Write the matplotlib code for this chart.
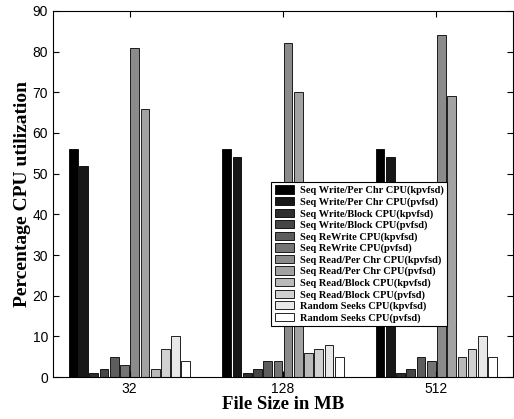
import matplotlib as mpl
mpl.use('Agg')
import matplotlib.pyplot as plt
import numpy as np

sizes = ['32', '128', '512']
series = ['Seq Write/Per Chr CPU(kpvfsd)', 'Seq Write/Per Chr CPU(pvfsd)',
          'Seq Write/Block CPU(kpvfsd)', 'Seq Write/Block CPU(pvfsd)',
          'Seq ReWrite CPU(kpvfsd)', 'Seq ReWrite CPU(pvfsd)',
          'Seq Read/Per Chr CPU(kpvfsd)', 'Seq Read/Per Chr CPU(pvfsd)',
          'Seq Read/Block CPU(kpvfsd)', 'Seq Read/Block CPU(pvfsd)',
          'Random Seeks CPU(kpvfsd)', 'Random Seeks CPU(pvfsd)']
cpu_32 = [56, 52, 1, 2, 5, 3, 81, 66, 2, 7, 10, 4]
cpu_128 = [56, 54, 1, 2, 4, 4, 82, 70, 6, 7, 8, 5]
cpu_512 = [56, 54, 1, 2, 5, 4, 84, 69, 5, 7, 10, 5]

vals = np.array([cpu_32, cpu_128, cpu_512])
n = len(series)
grays = np.linspace(0, 1, n)

fig = plt.figure(figsize=(5.14, 4.19), dpi=100)
ax = fig.add_axes([0.103, 0.1, 0.895, 0.874])

x = np.arange(1, len(sizes) + 1)
slot = 0.8 / n
for i in range(n):
    pos = x - 0.4 + slot * (i + 0.5)
    g = grays[i]
    ax.bar(pos, vals[:, i], width=slot * 0.85, color=(g, g, g),
           edgecolor='black', linewidth=0.6, label=series[i])

ax.set_xlim(0.5, 3.5)
ax.set_ylim(0, 90)
ax.set_yticks(range(0, 91, 10))
ax.set_xticks(x)
ax.set_xticklabels(sizes)
ax.tick_params(direction='in', top=True, right=True, labelsize=10, length=4)
for lab in ax.get_xticklabels() + ax.get_yticklabels():
    lab.set_family('Liberation Sans')

ax.set_xlabel('File Size in MB', family='Liberation Serif', weight='bold',
              fontsize=13.5, labelpad=0)
ax.set_ylabel('Percentage CPU utilization', family='Liberation Serif',
              weight='bold', fontsize=14, labelpad=1)

leg = ax.legend(loc='upper left', bbox_to_anchor=(0.475, 0.532),
                prop={'family': 'Liberation Serif', 'weight': 'bold', 'size': 7.5},
                fancybox=False, framealpha=1, edgecolor='black',
                handlelength=1.9, handleheight=0.85, labelspacing=0.15,
                handletextpad=0.5, borderpad=0.3, borderaxespad=0)
leg.get_frame().set_linewidth(0.8)

fig.savefig('out.png', dpi=100)
